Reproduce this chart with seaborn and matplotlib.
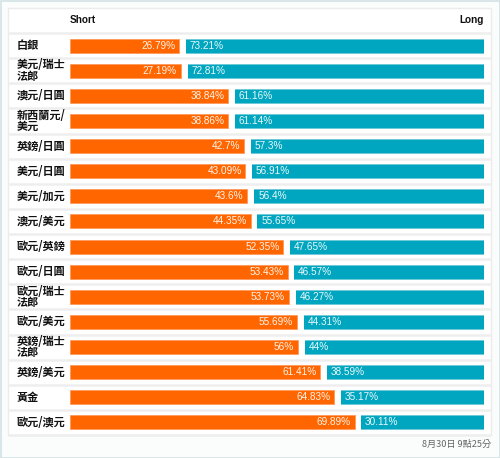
import matplotlib
matplotlib.use('Agg')
import numpy as np
import pandas as pd
import matplotlib.pyplot as plt
import matplotlib.transforms as mtransforms
from matplotlib.patches import Rectangle
import seaborn as sns

pairs = ['白銀', '美元/瑞士\n法郎', '澳元/日圓', '新西蘭元/\n美元', '英鎊/日圓', '美元/日圓',
         '美元/加元', '澳元/美元', '歐元/英鎊', '歐元/日圓', '歐元/瑞士\n法郎', '歐元/美元',
         '英鎊/瑞士\n法郎', '英鎊/美元', '黃金', '歐元/澳元']
short_pct = [26.79, 27.19, 38.84, 38.86, 42.7, 43.09, 43.6, 44.35, 52.35, 53.43, 53.73,
             55.69, 56, 61.41, 64.83, 69.89]
long_pct = [73.21, 72.81, 61.16, 61.14, 57.3, 56.91, 56.4, 55.65, 47.65, 46.57, 46.27,
            44.31, 44, 38.59, 35.17, 30.11]
footer = '8月30日 9點25分'

sns.set_style('white')
plt.rcParams['font.family'] = ['Noto Sans CJK TC', 'DejaVu Sans']

orange = '#ff6600'
teal = '#00a6bf'
gap = 1.7

df = pd.DataFrame({'pair': pairs, 'short': short_pct, 'long': long_pct})
df['short_gap'] = df['short'] + gap
df['total'] = df['short'] + gap + df['long']

W, H = 500, 458
fig = plt.figure(figsize=(W / 100, H / 100), dpi=100)
ax = fig.add_axes([70 / W, 1 - 435 / H, 414 / W, 402 / H])

# stacked layers: teal full bar, white gap, orange short bar
sns.barplot(data=df, y='pair', x='total', color=teal, saturation=1, width=0.56,
            edgecolor='#6cc8d6', linewidth=0.6, ax=ax, orient='h')
sns.barplot(data=df, y='pair', x='short_gap', color='white', saturation=1, width=0.7,
            linewidth=0, ax=ax, orient='h')
sns.barplot(data=df, y='pair', x='short', color=orange, saturation=1, width=0.56,
            edgecolor='#ff9a5c', linewidth=0.6, ax=ax, orient='h')

ax.set_xlim(0, 100 + gap)
ax.set_ylim(len(pairs) - 0.5, -0.5)
ax.set_xlabel('')
ax.set_ylabel('')
ax.set_xticks([])
ax.set_yticks([])
sns.despine(ax=ax, left=True, bottom=True)
ax.patch.set_alpha(0)

# row separators
x0 = (9 - 70) / 414
x1 = (490 - 70) / 414
for b in np.arange(-0.5, len(pairs)):
    ax.axhline(b, xmin=x0, xmax=x1, color='#eeeeee', lw=1.8, clip_on=False, zorder=0)

fmt = lambda v: f'{v:g}%'
for i, (s, l) in enumerate(zip(short_pct, long_pct)):
    ax.text(s - 0.9, i, fmt(s), ha='right', va='center', color='white', fontsize=7.2,
            family=['Liberation Sans'], alpha=0.92)
    ax.text(s + gap + 0.9, i, fmt(l), ha='left', va='center', color='white', fontsize=7.2,
            family=['Liberation Sans'], alpha=0.92)

trans = mtransforms.blended_transform_factory(fig.transFigure, ax.transData)
for i, name in enumerate(pairs):
    ax.text(17 / W, i, name, transform=trans, ha='left', va='center', fontsize=8,
            fontweight='bold', color='#111111', linespacing=0.85)

fig.text(70 / W, 1 - 20 / H, 'Short', ha='left', va='center', fontsize=7.2,
         fontweight='bold', color='#111111', family=['Liberation Sans'])
fig.text(484 / W, 1 - 20 / H, 'Long', ha='right', va='center', fontsize=7.2,
         fontweight='bold', color='#111111', family=['Liberation Sans'])
fig.text(491 / W, 1 - 444 / H, footer, ha='right', va='center', fontsize=6.6, color='#666666')

fig.patches.append(Rectangle((8 / W, 1 - 435 / H), 483 / W, 427 / H, transform=fig.transFigure,
                             facecolor='white', edgecolor='#ececec', lw=1, zorder=-2))
fig.patches.append(Rectangle((0.5 / W, 0.5 / H), 499 / W, 457 / H, transform=fig.transFigure,
                             facecolor='#fbfcfc', edgecolor='#d3e2e4', lw=1.2, zorder=-3))

fig.savefig('out.png', dpi=100)
